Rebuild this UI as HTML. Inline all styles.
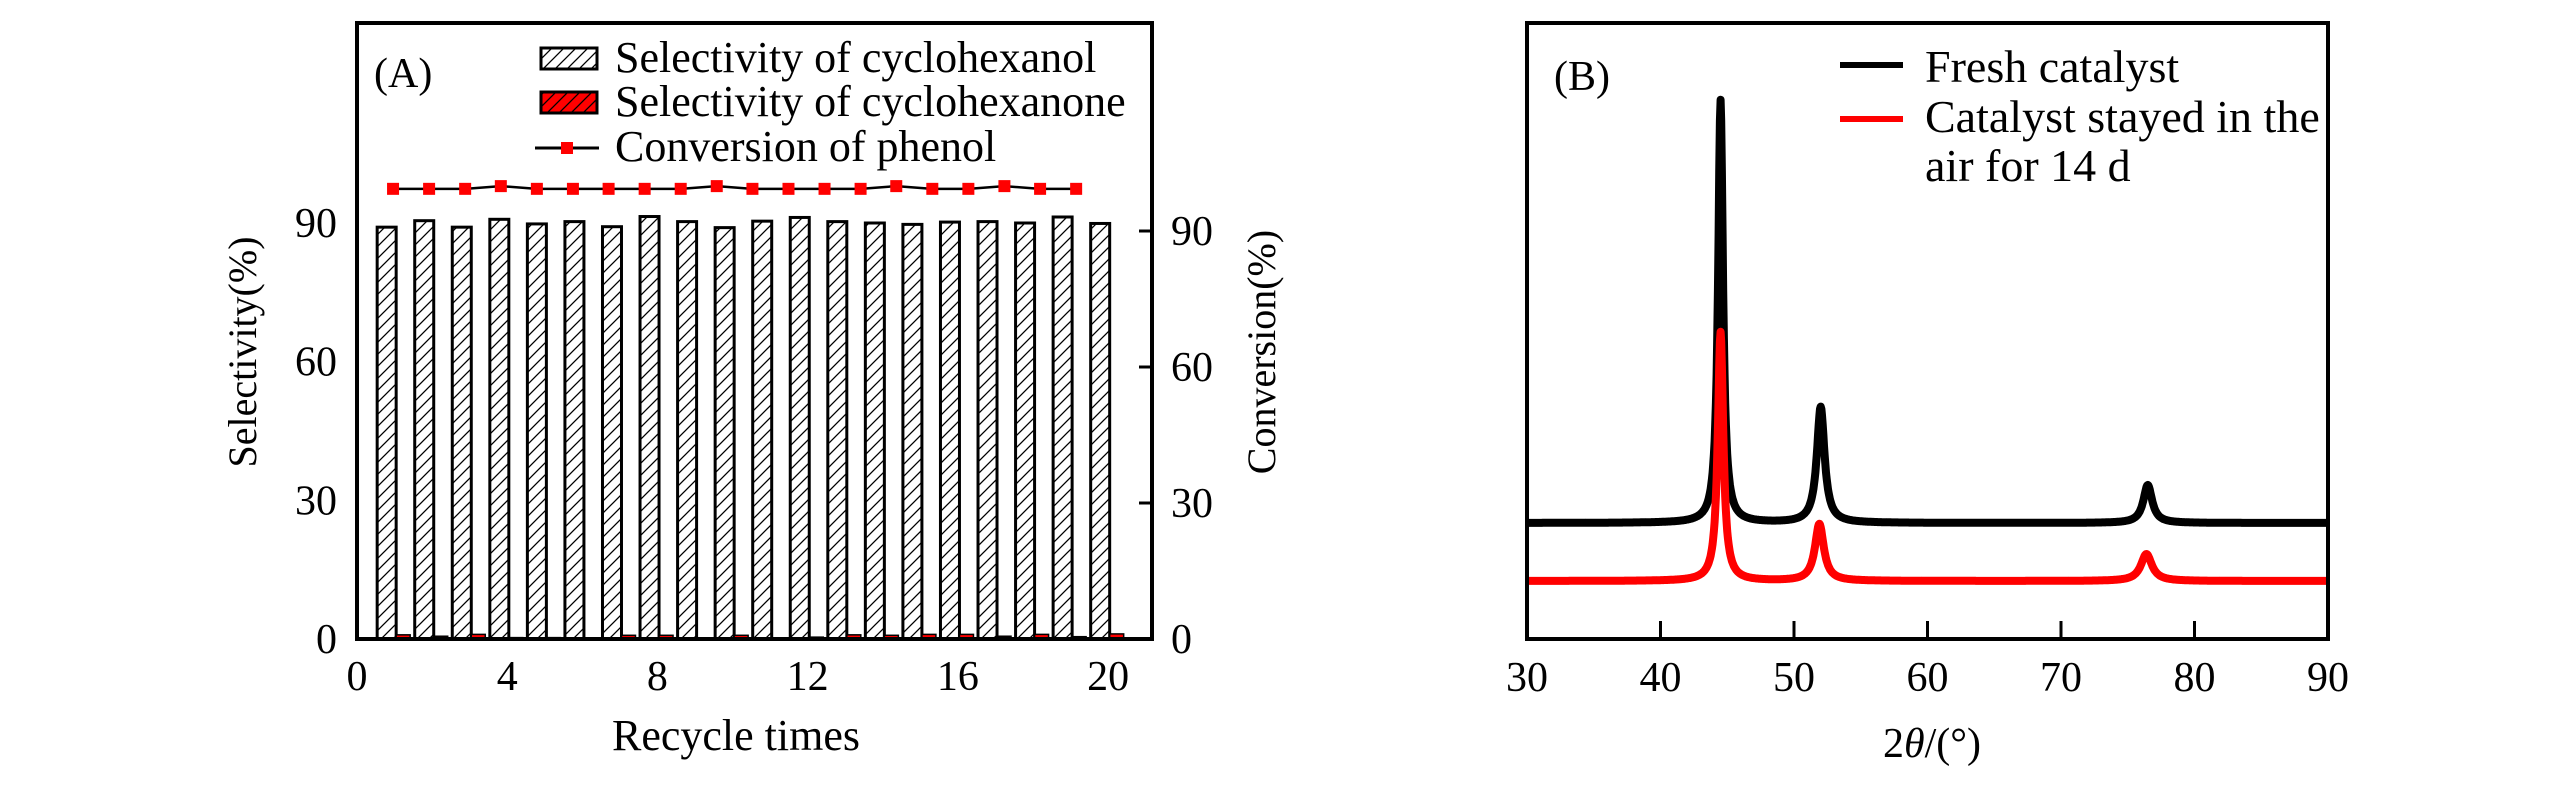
<!DOCTYPE html>
<html><head><meta charset="utf-8"><style>
html,body{margin:0;padding:0;background:#fff;}
svg{display:block;font-family:"Liberation Serif",serif;}
</style></head><body>
<svg id="chart" width="2567" height="787" viewBox="0 0 2567 787" xmlns="http://www.w3.org/2000/svg">
<defs>
<pattern id="hatch" patternUnits="userSpaceOnUse" width="12" height="12">
<rect width="12" height="12" fill="#fff"/>
<path d="M-3,3 L3,-3 M0,12 L12,0 M9,15 L15,9" stroke="#000" stroke-width="1.3"/>
</pattern>
<pattern id="hatchred" patternUnits="userSpaceOnUse" width="12" height="12">
<rect width="12" height="12" fill="#f00"/>
<path d="M-3,3 L3,-3 M0,12 L12,0 M9,15 L15,9" stroke="#000" stroke-width="1.3"/>
</pattern>
</defs>
<g id="pa"></g>
<g id="pb"></g>
</svg>
<script>
// ---- Panel A data ----
const cycles = [1,2,3,4,5,6,7,8,9,10,11,12,13,14,15,16,17,18,19,20];
const selCyclohexanol = [89.1,90.5,89.1,90.8,89.8,90.3,89.2,91.4,90.3,89.0,90.4,91.2,90.3,90.0,89.7,90.2,90.3,90.0,91.3,89.9];
const selCyclohexanone = [0.9,0.6,1.0,0.3,0.3,0.2,0.8,0.8,0.2,0.8,0.2,0.4,0.9,0.8,1.0,1.0,0.6,1.0,0.5,1.1];
const convX = [0.96,1.92,2.88,3.83,4.79,5.75,6.70,7.66,8.62,9.58,10.53,11.49,12.45,13.41,14.36,15.32,16.28,17.24,18.19,19.15];
const conversion = [99.3,99.3,99.3,99.9,99.3,99.3,99.3,99.3,99.3,99.9,99.3,99.3,99.3,99.3,99.9,99.3,99.3,99.9,99.3,99.3];
const xTicksA = [0,4,8,12,16,20];
const yTicksA = [0,30,60,90];
// ---- Panel B data ----
const xTicksB = [30,40,50,60,70,80,90];
const freshBaseline = [116];
const freshPeakPos = [44.5,52.0,76.5];
const freshPeakHeight = [423,116,38];
const freshPeakWidth = [0.22,0.35,0.4];
const airBaseline = [58];
const airPeakPos = [44.5,51.9,76.4];
const airPeakHeight = [249,57,27];
const airPeakWidth = [0.25,0.4,0.5];

const NS="http://www.w3.org/2000/svg";
function mk(parent,tag,attrs,text){const e=document.createElementNS(NS,tag);for(const k in attrs)e.setAttribute(k,attrs[k]);if(text!==undefined)e.textContent=text;parent.appendChild(e);return e;}

// ---------- Panel A ----------
const pa=document.getElementById('pa');
const AL=357,AR=1152,AT=23,AB=639;
const xA=v=>AL+(v/21.17)*(AR-AL);
const yL=v=>AB-v*(AB-223)/90;
const yR=v=>AB-v*(AB-231)/90;
const bw=19, rw=14;
cycles.forEach((c,i)=>{
  const x0=xA(c)-0.21*37.55-bw/2;
  const b=mk(pa,'rect',{x:x0,y:yL(selCyclohexanol[i]),width:bw,height:AB-yL(selCyclohexanol[i]),fill:'url(#hatch)',stroke:'#000','stroke-width':3});
  
  
  const r=mk(pa,'rect',{x:x0+bw,y:yL(selCyclohexanone[i]),width:rw,height:AB-yL(selCyclohexanone[i]),fill:'#f00',stroke:'#000','stroke-width':1.5});
  
  
});
const lp=mk(pa,'polyline',{points:convX.map((x,i)=>xA(x)+','+yR(conversion[i])).join(' '),fill:'none',stroke:'#000','stroke-width':2.5});


convX.forEach((x,i)=>{
  const m=mk(pa,'rect',{x:xA(x)-6,y:yR(conversion[i])-6,width:12,height:12,fill:'#f00'});
  
  
});
const fa=mk(pa,'rect',{x:AL,y:AT,width:AR-AL,height:AB-AT,fill:'none',stroke:'#000','stroke-width':4});


xTicksA.forEach(t=>{
  const e=mk(pa,'text',{x:xA(t),y:690,'font-size':42,'text-anchor':'middle'},t);
  
  
});
yTicksA.forEach(t=>{
  const e=mk(pa,'text',{x:337,y:yL(t)+14,'font-size':42,'text-anchor':'end'},t);
  
  
  const e2=mk(pa,'text',{x:1171,y:yR(t)+14,'font-size':42,'text-anchor':'start'},t);
  
  
  if(t>0){const tk=mk(pa,'line',{x1:AR,x2:AR-13,y1:yR(t),y2:yR(t),stroke:'#000','stroke-width':3});
  
  }
});
</script>
<script>
(function(){
const pa=document.getElementById('pa');
function t(x,y,s,txt,name,extra){const e=document.createElementNS(NS,'text');e.setAttribute('x',x);e.setAttribute('y',y);e.setAttribute('font-size',s);if(extra)for(const k in extra)e.setAttribute(k,extra[k]);e.textContent=txt;


pa.appendChild(e);return e;}
t(736,750,44,'Recycle times','x-axis-title',{'text-anchor':'middle'});
t(0,0,40,'Selectivity(%)','y-left-axis-title',{'text-anchor':'middle',transform:'translate(256,352) rotate(-90)'});
t(0,0,40,'Conversion(%)','y-right-axis-title',{'text-anchor':'middle',transform:'translate(1275,352) rotate(-90)'});
t(374,87,42,'(A)','panel-label-a');
const s1=mk(pa,'rect',{x:541,y:48,width:56,height:21,fill:'url(#hatch)',stroke:'#000','stroke-width':3});


const s2=mk(pa,'rect',{x:541,y:92,width:56,height:21,fill:'url(#hatchred)',stroke:'#000','stroke-width':3});


const l3=mk(pa,'line',{x1:535,x2:599,y1:148,y2:148,stroke:'#000','stroke-width':3});


const m3=mk(pa,'rect',{x:561,y:142,width:12,height:12,fill:'#f00'});


t(615,72,44,'Selectivity of cyclohexanol','legend-entry-cyclohexanol');
t(615,116,44,'Selectivity of cyclohexanone','legend-entry-cyclohexanone');
t(615,161,44,'Conversion of phenol','legend-entry-conversion');
})();

// ---------- Panel B ----------
(function(){
const pb=document.getElementById('pb');
const BL=1527,BR=2328,BT=23,BB=639;
const xB=v=>BL+(v-30)/60*(BR-BL);
const yB=v=>BB-v;
function curve(base,pos,h,w){
  const pts=[];
  for(let x=30;x<=90.0001;x+=0.05){
    let v=base[0];
    for(let k=0;k<pos.length;k++){const d=(x-pos[k])/w[k];v+=h[k]/(1+d*d);}
    pts.push(xB(x).toFixed(1)+','+yB(v).toFixed(1));
  }
  return pts.join(' ');
}
const c1=mk(pb,'polyline',{points:curve(freshBaseline,freshPeakPos,freshPeakHeight,freshPeakWidth),fill:'none',stroke:'#000','stroke-width':8,'stroke-linejoin':'round'});


const c2=mk(pb,'polyline',{points:curve(airBaseline,airPeakPos,airPeakHeight,airPeakWidth),fill:'none',stroke:'#f00','stroke-width':8,'stroke-linejoin':'round'});


const fb=mk(pb,'rect',{x:BL,y:BT,width:BR-BL,height:BB-BT,fill:'none',stroke:'#000','stroke-width':4});


xTicksB.forEach(v=>{
  if(v>30&&v<90){const tk=mk(pb,'line',{x1:xB(v),x2:xB(v),y1:BB,y2:BB-18,stroke:'#000','stroke-width':3});
  
  }
  const e=mk(pb,'text',{x:xB(v),y:691,'font-size':42,'text-anchor':'middle'},v);
  
  
});
function t(x,y,txt,name,s){const e=mk(pb,'text',{x:x,y:y,'font-size':s||46},txt);

return e;}
t(1554,90,'(B)','panel-label-b',42);
const xt=mk(pb,'text',{x:1932,y:757,'font-size':42,'text-anchor':'middle'});


xt.innerHTML='2<tspan font-style="italic">θ</tspan>/(°)';
const l1=mk(pb,'line',{x1:1840,x2:1903,y1:65,y2:65,stroke:'#000','stroke-width':6});


const l2=mk(pb,'line',{x1:1840,x2:1903,y1:119,y2:119,stroke:'#f00','stroke-width':6});


t(1925,82,'Fresh catalyst','legend-entry-fresh');
t(1925,132,'Catalyst stayed in the','legend-entry-air');
t(1925,181,'air for 14 d','legend-entry-air-line2');
})();
</script>
</body></html>
